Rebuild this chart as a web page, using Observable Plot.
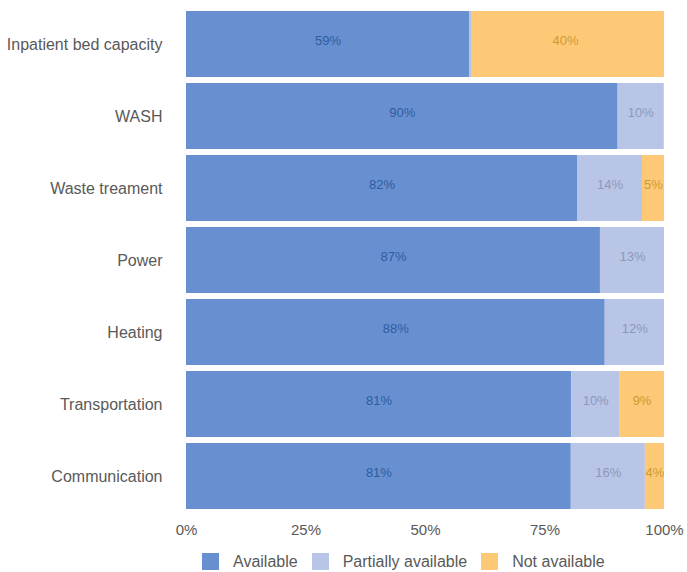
<!DOCTYPE html>
<html>
<head>
<meta charset="utf-8">
<script src="https://cdn.jsdelivr.net/npm/d3@7"></script>
<script src="https://cdn.jsdelivr.net/npm/@observablehq/plot@0.6"></script>
<style>
  html, body { margin: 0; padding: 0; background: #fff; }
  body { font-family: "Liberation Sans", Arial, sans-serif; width: 687px; }
  #chart svg { display: block; }
  .legend { display: flex; align-items: center; padding-left: 202px; margin-top: 8px; height: 17px;
            font-size: 16px; color: #595959; font-family: "Liberation Sans", Arial, sans-serif; }
  .legend .sw { width: 17px; height: 17px; margin-right: 14px; flex: none; }
  .legend .item { display: flex; align-items: center; margin-right: 14px; white-space: nowrap; line-height: 17px; }
</style>
</head>
<body>
<div id="chart"></div>
<script>
// Categories (top to bottom)
const categories = ["Inpatient bed capacity", "WASH", "Waste treament", "Power", "Heating", "Transportation", "Communication"];
// Series (percent of facilities)
const statuses = ["Available", "Partially available", "Not available"];
const available = [59.2, 90.3, 81.8, 86.6, 87.6, 80.6, 80.5];
const partially = [0.6, 9.5, 13.6, 13.4, 12.4, 10.0, 15.5];
const notAvailable = [40.2, 0.2, 4.6, 0, 0, 9.4, 4.0];
// Axis ticks
const xTicks = [0, 25, 50, 75, 100];

// Styles
const barColors = ["#6890d0", "#b8c5e6", "#fdc977"];
const labelColors = ["#2e5d9f", "#8d98bd", "#d09a32"];

const series = [available, partially, notAvailable];
const data = [];
categories.forEach((c, i) => {
  statuses.forEach((s, j) => {
    data.push({category: c, status: s, value: series[j][i]});
  });
});

const font = '"Liberation Sans", Arial, sans-serif';
const labelColorOf = d => labelColors[statuses.indexOf(d.status)];

const chart = Plot.plot({
  width: 687,
  height: 545,
  marginLeft: 186,
  marginRight: 23,
  marginTop: 9,
  marginBottom: 35,
  style: {fontFamily: font, background: "#fff"},
  x: {domain: [0, 100], ticks: xTicks},
  y: {domain: categories, paddingInner: 0.0875, paddingOuter: 0},
  color: {domain: statuses, range: barColors},
  marks: [
    Plot.barX(data, Plot.stackX({x: "value", y: "category", z: "status", fill: "status", order: statuses})),
    Plot.text(data.filter(d => d.value >= 1), Plot.stackX({
      x: "value", y: "category", z: "status", order: statuses,
      text: d => Math.round(d.value) + "%",
      fill: labelColorOf,
      fontSize: 13,
      dy: -4,
      fontFamily: font
    })),
    Plot.axisX({ticks: xTicks, tickFormat: d => d + "%", tickSize: 0, tickPadding: 14,
      fontSize: 15, color: "#595959", fill: "#595959", label: null}),
    Plot.axisY({tickSize: 0, tickPadding: 24, fontSize: 16, fill: "#595959", label: null})
  ]
});

document.getElementById("chart").appendChild(chart);

// Legend built from the chart's color scale
const cs = chart.scale("color");
const legend = document.createElement("div");
legend.className = "legend";
cs.domain.forEach((name, i) => {
  const item = document.createElement("div");
  item.className = "item";
  const sw = document.createElement("div");
  sw.className = "sw";
  sw.style.background = cs.range[i];
  const t = document.createElement("span");
  t.textContent = name;
  item.appendChild(sw);
  item.appendChild(t);
  legend.appendChild(item);
});
document.getElementById("chart").appendChild(legend);
</script>
</body>
</html>
